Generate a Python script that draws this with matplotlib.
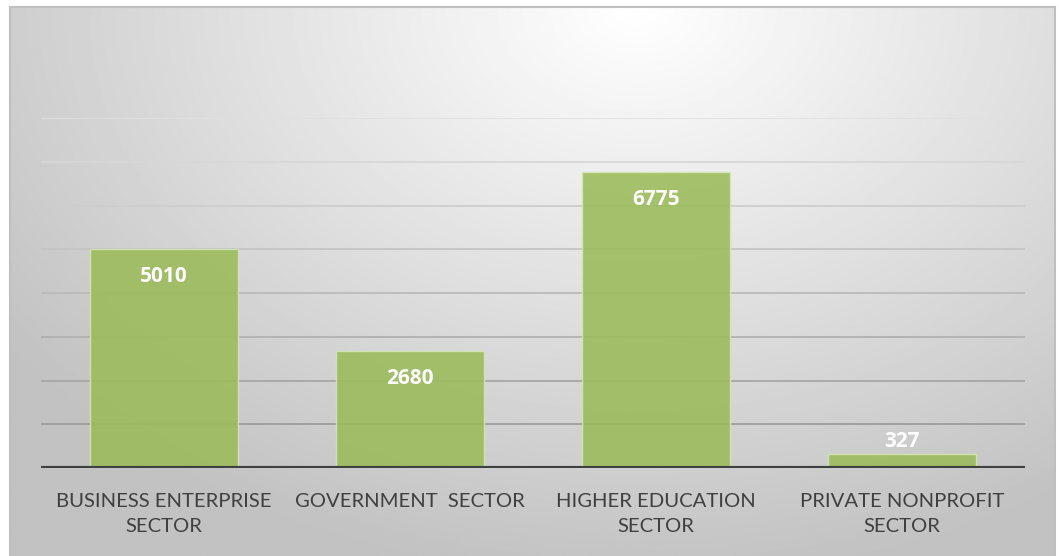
import numpy as np
import matplotlib.pyplot as plt

plt.rcParams['font.family'] = ['Lato', 'DejaVu Sans']

setores = ["BUSINESS ENTERPRISE\nSECTOR", "GOVERNMENT  SECTOR",
           "HIGHER EDUCATION\nSECTOR", "PRIVATE NONPROFIT\nSECTOR"]
valores = [5010, 2680, 6775, 327]
grade = [1000, 2000, 3000, 4000, 5000, 6000, 7000, 8000]

W, H = 1059, 556
fig = plt.figure(figsize=(W / 100, H / 100), dpi=100)
fig.patch.set_facecolor("white")

# fundo com gradiente radial (branco no topo, cinza nas bordas)
bg = fig.add_axes([10 / W, 0, 1045 / W, 1 - 7 / H])
yy, xx = np.mgrid[0:1:300j, 0:1:600j]
d = np.sqrt(((xx - 0.6) / 0.75) ** 2 + (yy / 1.05) ** 2)
cinza = 1.0 - np.clip(d, 0, 1) * 0.24
bg.imshow(cinza, cmap="gray", vmin=0, vmax=1, aspect="auto",
          extent=[0, 1, 1, 0], interpolation="bilinear")
bg.set_xticks([])
bg.set_yticks([])
for lado in ["top", "left", "right"]:
    bg.spines[lado].set_color("#bfbfbf")
    bg.spines[lado].set_linewidth(1.5)
bg.spines["bottom"].set_visible(False)

ax = fig.add_axes([41 / W, 1 - 468 / H, 984 / W, 350 / H])
ax.patch.set_alpha(0)
x = np.arange(len(setores))
ax.set_xlim(-0.5, len(setores) - 0.5)
ax.set_ylim(0, 8000)

# linhas de grade com tom mais escuro embaixo
for g in grade:
    t = g / 8000
    c = 0.58 + 0.30 * t
    ax.axhline(g, color=(c, c, c), linewidth=1.3, zorder=1)

ax.bar(x, valores, 0.6, color="#9bbb59", alpha=0.88,
       edgecolor="#d6e6b8", linewidth=1.0, zorder=2)
ax.axhline(0, color="#404040", linewidth=3.0, zorder=3)

for xi, v in zip(x, valores):
    if v > 1000:
        yt = v - 640
    else:
        yt = v + 280
    ax.text(xi, yt, str(v), ha="center", va="center",
            color="white", fontsize=15, fontweight="bold", zorder=4,
            family=["Open Sans", "DejaVu Sans"])

ax.set_xticks(x)
ax.set_xticklabels(setores, fontsize=14.6, color="#404040", linespacing=1.6,
                   va="top")
ax.tick_params(axis="x", length=0, pad=18)
ax.set_yticks([])
for lado in ax.spines.values():
    lado.set_visible(False)

plt.savefig("out.png", dpi=100)
